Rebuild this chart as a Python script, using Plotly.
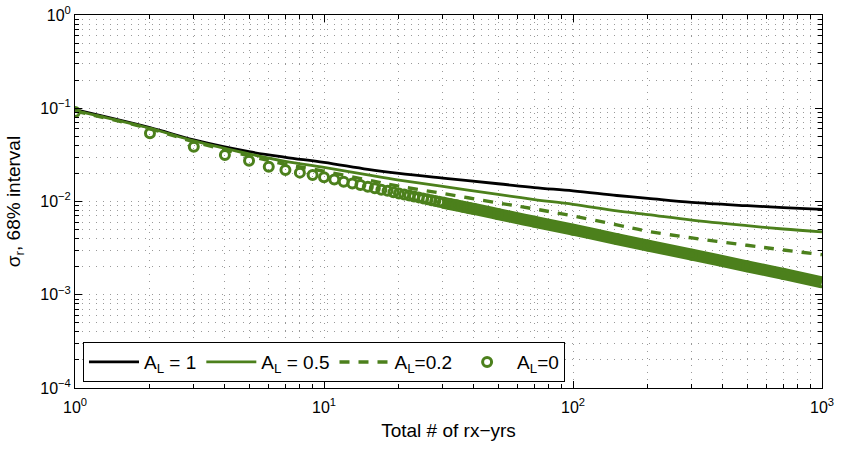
import plotly.graph_objects as go

# ---- data ----
n_lines = [1, 2, 3, 5, 7, 10, 15, 20, 30, 50, 70, 100, 150, 200, 300, 500, 700, 1000]
sigma_AL1 = [0.0966, 0.0619, 0.0457, 0.0342, 0.0298, 0.0263, 0.0221, 0.0200, 0.0178,
             0.0155, 0.0141, 0.0130, 0.0116, 0.0108, 0.00977, 0.00902, 0.00861, 0.00822]
sigma_AL05 = [0.0944, 0.0610, 0.0447, 0.0324, 0.0269, 0.0232, 0.0193, 0.0170, 0.0145,
              0.0119, 0.0105, 0.00933, 0.00794, 0.00724, 0.00631, 0.00550, 0.00507, 0.00473]
sigma_AL02 = [0.0933, 0.0603, 0.0437, 0.0309, 0.0251, 0.0211, 0.0170, 0.0146, 0.0122,
              0.00966, 0.00832, 0.00700, 0.00562, 0.00479, 0.00407, 0.00339, 0.00302, 0.00269]

n_AL0 = [1, 2, 3, 4, 5, 6, 7, 8, 9, 10, 11, 12, 13, 14, 15, 16, 17, 18, 19, 20,
         21, 22, 23, 24, 25, 26, 27, 28, 29, 30, 32, 34, 36, 38, 40,
         50, 70, 100, 150, 200, 300, 500, 700, 1000]
sigma_AL0 = [0.0912, 0.0538, 0.0387, 0.0316, 0.0274, 0.0236, 0.0218, 0.0204, 0.0192, 0.0182,
             0.0172, 0.0163, 0.0156, 0.0150, 0.0144, 0.0139, 0.0134, 0.0130, 0.0126, 0.0122,
             0.01191, 0.01161, 0.01132, 0.01107, 0.0108, 0.01054, 0.01033, 0.01012, 0.00993,
             0.00975, 0.00940, 0.00910, 0.00881, 0.00855, 0.00832,
             0.00733, 0.00607, 0.00498, 0.00396, 0.00337, 0.00269, 0.00202, 0.00167, 0.00136]

x_ticks = [1, 10, 100, 1000]
x_ticktext = ["10<sup>0</sup>", "10<sup>1</sup>", "10<sup>2</sup>", "10<sup>3</sup>"]
y_ticks = [1e-4, 1e-3, 1e-2, 1e-1, 1]
y_ticktext = ["10<sup>\u22124</sup>", "10<sup>\u22123</sup>", "10<sup>\u22122</sup>",
              "10<sup>\u22121</sup>", "10<sup>0</sup>"]

GREEN = "#4C801C"
FONT = "Liberation Sans, Arial, Helvetica, sans-serif"

fig = go.Figure()
fig.add_trace(go.Scatter(x=n_lines, y=sigma_AL1, mode="lines", name="A<sub>L</sub> = 1",
                         line=dict(color="black", width=2.8, shape="spline")))
fig.add_trace(go.Scatter(x=n_lines, y=sigma_AL05, mode="lines", name="A<sub>L</sub> = 0.5",
                         line=dict(color=GREEN, width=2.8, shape="spline")))
fig.add_trace(go.Scatter(x=n_lines, y=sigma_AL02, mode="lines", name="A<sub>L</sub>=0.2",
                         line=dict(color=GREEN, width=3.4, dash="10px,9px", shape="spline")))
# dense band where the A_L=0 circles merge
band_start = n_AL0.index(30)
fig.add_trace(go.Scatter(x=n_AL0[band_start:], y=sigma_AL0[band_start:], mode="lines",
                         showlegend=False, hoverinfo="skip",
                         line=dict(color=GREEN, width=12, shape="spline")))
fig.add_trace(go.Scatter(x=n_AL0, y=sigma_AL0, mode="markers", name="A<sub>L</sub>=0",
                         marker=dict(symbol="circle-open", size=9, color=GREEN,
                                     line=dict(color=GREEN, width=3))))

grid_dash = "1px,6px"
GRID = "#999999"
minor_x = [v * d for d in (1, 10, 100) for v in range(2, 10)]
minor_y = [v * d for d in (1e-4, 1e-3, 1e-2, 1e-1) for v in range(2, 10)]

axis_common = dict(type="log", showline=True, linecolor="black", linewidth=1,
                   mirror="ticks", ticks="inside", ticklen=7, tickcolor="black",
                   showgrid=True, gridcolor=GRID, gridwidth=1, griddash=grid_dash,
                   zeroline=False, tickfont=dict(family=FONT, size=16, color="black"))

fig.update_xaxes(**axis_common, range=[0, 3], tickvals=x_ticks, ticktext=x_ticktext,
                 ticklabelstandoff=5,
                 minor=dict(tickvals=minor_x, ticks="inside", ticklen=4, tickcolor="black",
                            showgrid=True, gridcolor=GRID, griddash=grid_dash),
                 title=dict(text="Total # of rx\u2212yrs", font=dict(family=FONT, size=19, color="black"),
                            standoff=8))
fig.update_yaxes(**axis_common, range=[-4, 0], tickvals=y_ticks, ticktext=y_ticktext,
                 minor=dict(tickvals=minor_y, ticks="inside", ticklen=4, tickcolor="black",
                            showgrid=True, gridcolor=GRID, griddash=grid_dash),
                 title=dict(text="\u03c3<sub>r</sub>, 68% interval", font=dict(family=FONT, size=19, color="black"),
                            standoff=14))

fig.update_layout(
    width=846, height=450,
    margin=dict(l=75, r=24, t=15, b=62, autoexpand=False),
    paper_bgcolor="white", plot_bgcolor="white",
    showlegend=True,
    legend=dict(orientation="h", x=0.0107, y=0.123, xanchor="left", yanchor="top",
                bgcolor="white", bordercolor="black", borderwidth=1,
                font=dict(family=FONT, size=19, color="black"),
                itemwidth=50),
)

fig.write_html("out.html", config={"displayModeBar": False},
               post_script="document.body.style.margin='0px';")
